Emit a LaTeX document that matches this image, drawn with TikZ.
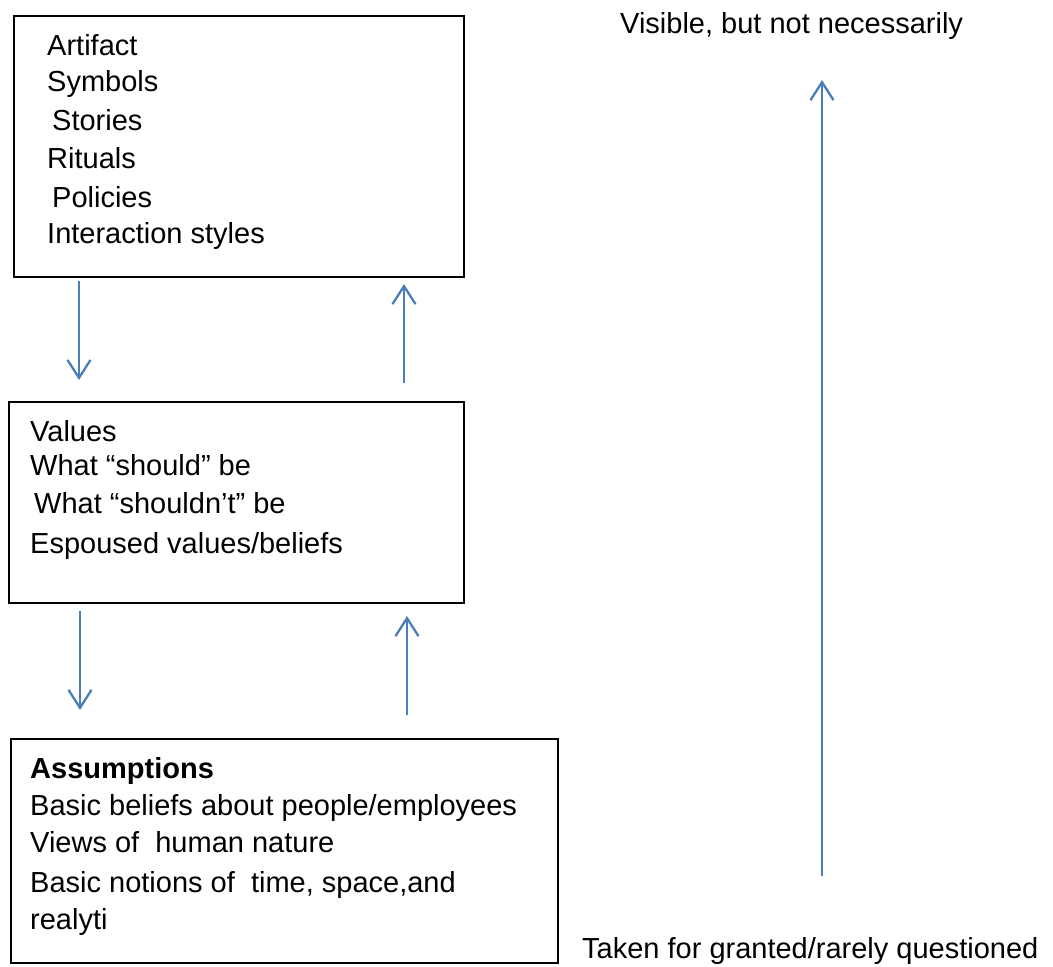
\documentclass[tikz,border=0pt]{standalone}
\usepackage{fontspec}
\setmainfont{Liberation Sans}
\usetikzlibrary{arrows.meta}
\definecolor{arrowblue}{HTML}{4A7EBB}
\begin{document}
\begin{tikzpicture}[x=1pt,y=-1pt,
  box/.style={draw=black,line width=1.8pt,inner sep=0pt,anchor=north west},
  txt/.style={anchor=base west,inner sep=0pt,font=\fontsize{29}{35}\selectfont},
  flow/.style={draw=arrowblue,line width=2.3pt,-{Straight Barb[length=18pt,width=23pt,line width=2.3pt]}}]
\useasboundingbox (0,0) rectangle (1053,967);
% boxes
\node[box,minimum width=450pt,minimum height=261pt] (b1) at (13,15) {};
\node[box,minimum width=455pt,minimum height=201pt] (b2) at (8,401) {};
\node[box,minimum width=547pt,minimum height=224pt] (b3) at (10,738) {};
% box 1 text
\node[txt] (t11) at (47,55) {Artifact};
\node[txt] (t12) at (47,91) {Symbols};
\node[txt] (t13) at (52,130) {Stories};
\node[txt] (t14) at (47,168) {Rituals};
\node[txt] (t15) at (52,207) {Policies};
\node[txt] (t16) at (47,243) {Interaction styles};
% box 2 text
\node[txt] (t21) at (30,441) {Values};
\node[txt] (t22) at (30,475) {What “should” be};
\node[txt] (t23) at (34,513) {What “shouldn’t” be};
\node[txt] (t24) at (30,553) {Espoused values/beliefs};
% box 3 text
\node[txt] (t31) at (30,778) {\bfseries Assumptions};
\node[txt] (t32) at (30,815) {Basic beliefs about people/employees};
\node[txt] (t33) at (30,852) {Views of\ \ human nature};
\node[txt] (t34) at (30,892) {Basic notions of\ \ time, space,and};
\node[txt] (t35) at (30,929) {realyti};
% side labels
\node[txt] (vis) at (620,33) {Visible, but not necessarily};
\node[txt] (tak) at (582,958) {Taken for granted/rarely questioned};
% arrow endpoints
\coordinate (d1s) at (79,281);  \coordinate (d1e) at (79,380);
\coordinate (u1s) at (404,383); \coordinate (u1e) at (404,284);
\coordinate (d2s) at (80,611);  \coordinate (d2e) at (80,710);
\coordinate (u2s) at (407,715); \coordinate (u2e) at (407,616);
\coordinate (bs) at (822,876);  \coordinate (be) at (822,80);
\draw[flow] (d1s) -- (d1e);
\draw[flow] (u1s) -- (u1e);
\draw[flow] (d2s) -- (d2e);
\draw[flow] (u2s) -- (u2e);
\draw[flow] (bs) -- (be);
\end{tikzpicture}
\end{document}
